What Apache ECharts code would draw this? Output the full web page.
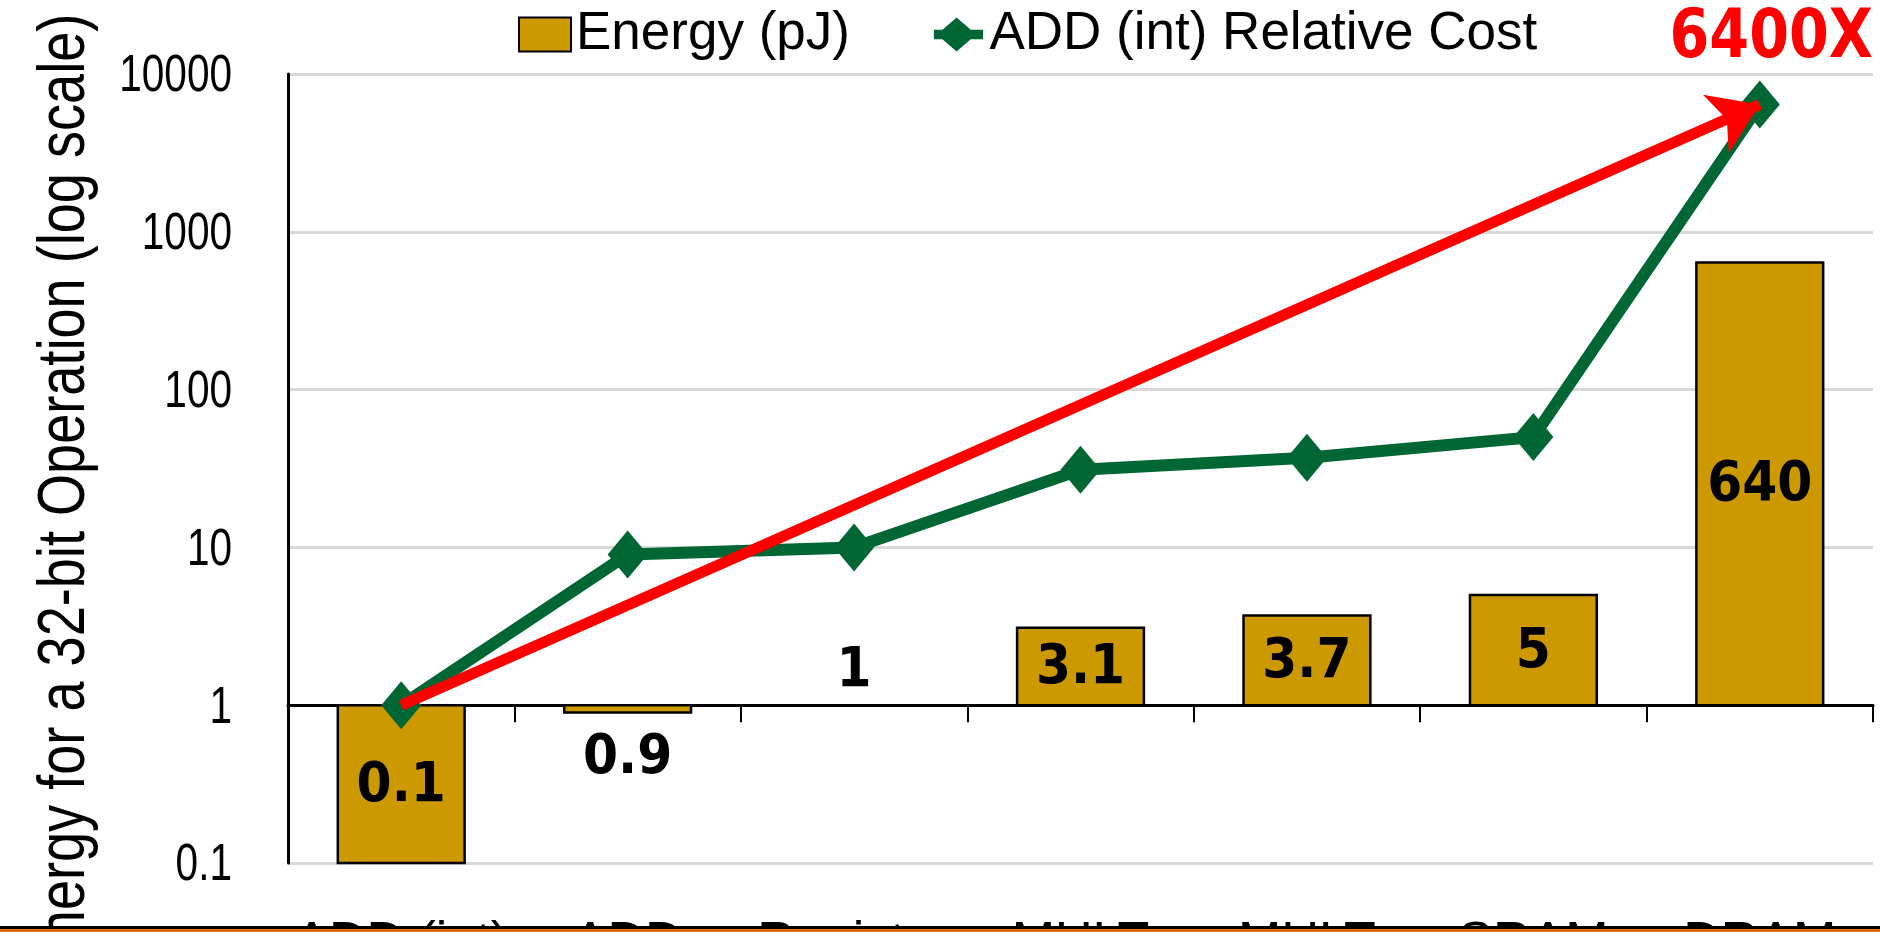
<!DOCTYPE html>
<html><head><meta charset="utf-8">
<script src="https://cdn.jsdelivr.net/npm/echarts@6/dist/echarts.min.js"></script>
<style>html,body{margin:0;padding:0;background:#fff;overflow:hidden}#c{width:1880px;height:932px;}</style>
</head><body><div id="c"></div>
<script>
// ---- data ----
const categories = ['ADD (int)', 'ADD', 'Register', 'MULT', 'MULT', 'SRAM', 'DRAM'];
const energyPJ = [0.1, 0.9, 1, 3.1, 3.7, 5, 640];
const relativeCost = [1, 9, 10, 31, 37, 50, 6400];
const yTicks = [0.1, 1, 10, 100, 1000, 10000];
const arrowFrom = [0, 1];
const arrowTo = [6, 6400];
const arrowLabel = '6400X';
const seriesNames = ['Energy (pJ)', 'ADD (int) Relative Cost'];
const yTitle = 'Energy for a 32-bit Operation (log scale)';

const GOLD = '#CC9900', GREEN = '#006633', RED = '#FF0000';
const GRID_LEFT = 288;
const fmt = v => v >= 1 ? String(Math.round(v)) : String(+v.toPrecision(1));
const chart = echarts.init(document.getElementById('c'), null, {renderer: 'canvas'});

chart.setOption({
  animation: false,
  backgroundColor: '#fff',
  grid: {left: GRID_LEFT, right: 7, top: 74, bottom: 69, containLabel: false, outerBoundsMode: 'none'},
  legend: {
    left: 518, top: 8, padding: 0, itemWidth: 52, itemHeight: 34, itemGap: 84,
    selectedMode: false,
    textStyle: {fontFamily: 'Liberation Sans', fontSize: 53, color: '#000'},
    data: [
      {name: seriesNames[0], icon: 'rect', itemStyle: {color: GOLD, borderColor: '#000', borderWidth: 2}},
      {name: seriesNames[1],
        icon: 'path://M0,13 L9,13 L24,0 L39,13 L52,13 L52,23 L39,23 L24,36 L9,23 L0,23 Z',
        itemStyle: {color: GREEN, borderWidth: 0}}
    ]
  },
  xAxis: {
    type: 'category', data: categories, position: 'bottom', offset: -157.8,
    axisLine: {show: true, lineStyle: {color: '#000', width: 3}},
    axisTick: {show: true, length: 17, lineStyle: {color: '#000', width: 2}},
    axisLabel: {margin: 212, fontFamily: 'Liberation Sans', fontSize: 52, color: '#000', interval: 0},
    splitLine: {show: false}
  },
  yAxis: {
    type: 'log', logBase: 10, min: yTicks[0], max: yTicks[yTicks.length - 1],
    axisLine: {show: true, lineStyle: {color: '#000', width: 3}},
    axisTick: {show: false},
    axisLabel: {show: false},
    splitLine: {show: true, lineStyle: {color: '#D9D9D9', width: 3}}
  },
  series: [
    {
      name: seriesNames[0], type: 'custom', z: 2,
      itemStyle: {color: GOLD, borderColor: '#000', borderWidth: 2},
      encode: {x: 0, y: 1},
      data: energyPJ.map((v, i) => [i, v]),
      renderItem: function (params, api) {
        const i = api.value(0), v = api.value(1);
        const base = api.coord([i, 1]);
        const top = api.coord([i, v]);
        const cw = api.coord([1, 1])[0] - api.coord([0, 1])[0];
        const w = cw * 0.56;
        const y0 = Math.min(base[1], top[1]), y1 = Math.max(base[1], top[1]);
        const h = y1 - y0;
        let ty;
        if (h >= 40) ty = (y0 + y1) / 2 + 2;
        else if (v < 1) ty = y1 + 46;
        else ty = y0 - 34;
        const children = [];
        if (h > 0.5) {
          children.push({type: 'rect', shape: {x: base[0] - w / 2, y: y0, width: w, height: h},
            style: {fill: GOLD, stroke: '#000', lineWidth: 2.5}});
        }
        children.push({type: 'text', x: base[0], y: ty, z2: 10,
          style: {text: String(v), font: 'bold 56px "DejaVu Sans Condensed", "DejaVu Sans"', fill: '#000', align: 'center', verticalAlign: 'middle'}});
        return {type: 'group', children: children};
      }
    },
    {
      name: seriesNames[1], type: 'line', z: 3,
      data: relativeCost,
      symbol: 'diamond', symbolSize: [40, 48],
      lineStyle: {color: GREEN, width: 12},
      itemStyle: {color: GREEN},
      emphasis: {disabled: true}
    },
    {
      type: 'lines', coordinateSystem: 'cartesian2d', z: 4, silent: true,
      symbol: ['none', 'arrow'], symbolSize: 48,
      lineStyle: {color: RED, width: 11, opacity: 1, curveness: 0},
      data: [{coords: [arrowFrom, arrowTo]}]
    }
  ]
});

// tick labels (narrow face, as in the reference) placed with the axis scale
const tickTexts = yTicks.map(v => ({
  type: 'text', x: GRID_LEFT - 56, y: chart.convertToPixel({yAxisIndex: 0}, v) + 3, scaleX: 0.78, z: 10,
  style: {text: fmt(v), font: '52px "Liberation Sans"', fill: '#000', align: 'right', verticalAlign: 'middle'}
}));

chart.setOption({
  graphic: tickTexts.concat([
    {type: 'text', x: 1873, y: 6, scaleX: 0.95, z: 10,
      style: {text: arrowLabel, font: 'bold 67px "DejaVu Sans Condensed", "DejaVu Sans"', fill: RED, align: 'right', verticalAlign: 'top'}},
    {type: 'text', x: 66, y: 495, rotation: Math.PI / 2, scaleX: 0.82, z: 10,
      style: {text: yTitle, font: '66px "Liberation Sans"', fill: '#000', align: 'center', verticalAlign: 'middle'}},
    {type: 'rect', left: 0, top: 926, shape: {width: 1880, height: 3}, style: {fill: '#000'}, z: 20},
    {type: 'rect', left: 0, top: 929, shape: {width: 1880, height: 3}, style: {fill: '#E46C0A'}, z: 20}
  ])
});
</script>
</body></html>
